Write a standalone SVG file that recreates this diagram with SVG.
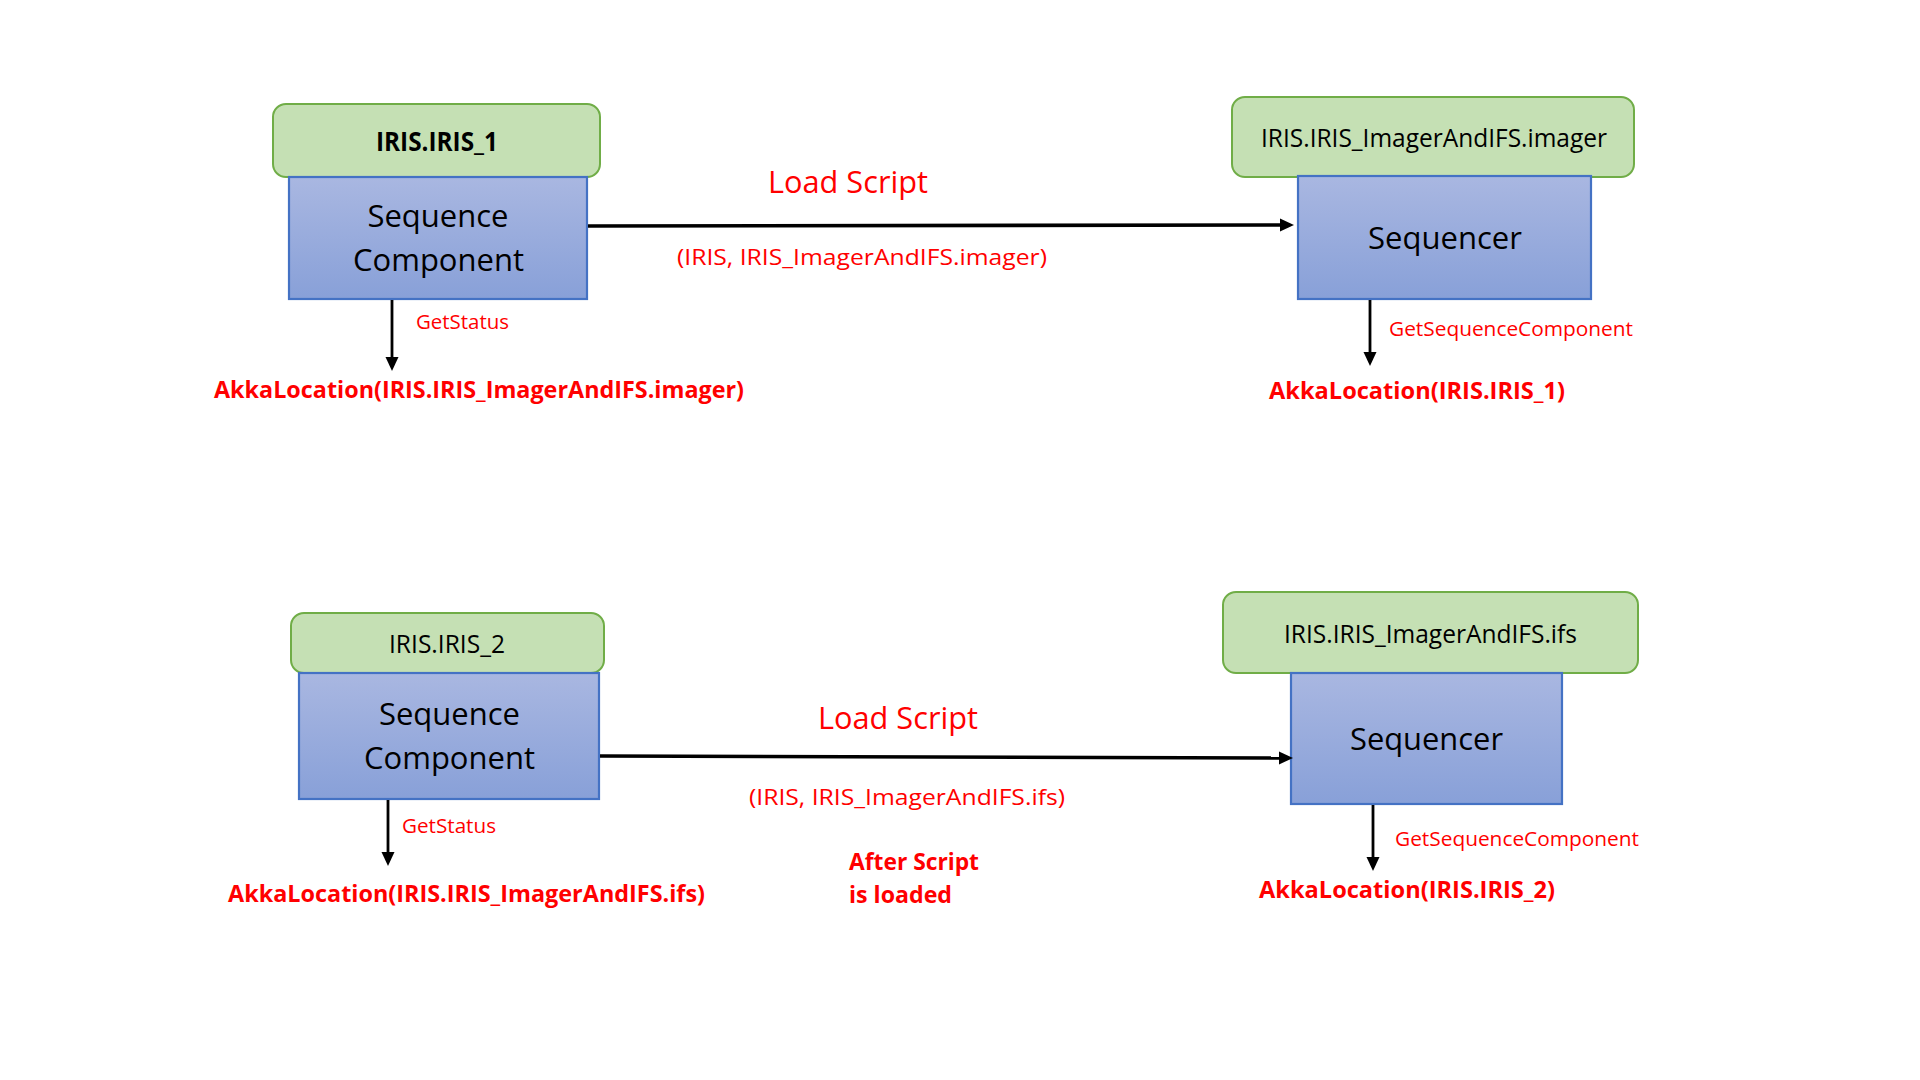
<svg xmlns="http://www.w3.org/2000/svg" width="1920" height="1080" viewBox="0 0 1920 1080">
<style>
text{font-family:"Open Sans","Noto Sans","DejaVu Sans",sans-serif;}
.tag{fill:#C5E0B4;stroke:#70AD47;stroke-width:2;}
.box{fill:url(#blueGrad);stroke:#4472C4;stroke-width:2.2;}
.lbl{fill:#000000;font-size:25px;}
.lblb{fill:#000000;font-size:26px;font-weight:bold;}
.big{fill:#000000;font-size:31px;}
.red{fill:#FF0000;}
.load{font-size:31px;}
.param{font-size:21px;}
.small{font-size:20px;}
.loc{font-size:24px;font-weight:bold;}
.conn{stroke:#000000;fill:none;}
.thick{stroke-width:3.6;}
.thin{stroke-width:2.8;}
</style>
<defs>
<linearGradient id="blueGrad" x1="0" y1="0" x2="0" y2="1">
<stop offset="0" stop-color="#A9B7E1"/>
<stop offset="1" stop-color="#88A0D8"/>
</linearGradient>
<marker id="arrow" markerUnits="userSpaceOnUse" markerWidth="14" markerHeight="14" viewBox="0 0 14 14" refX="7" refY="7" orient="auto">
<path d="M0,0.5 L14,7 L0,13.5 z" fill="#000000"/>
</marker>
</defs>
<rect x="0" y="0" width="1920" height="1080" fill="#FFFFFF"/>

<g id="seqcomp1">
<rect class="tag" x="273" y="104" width="327" height="73" rx="13"/>
<rect class="box" x="289" y="177" width="298" height="122"/>
<text class="lblb" x="376" y="151" textLength="122" lengthAdjust="spacingAndGlyphs">IRIS.IRIS_1</text>
<text class="big" x="438" y="227" text-anchor="middle">Sequence</text>
<text class="big" x="438.5" y="271" text-anchor="middle" textLength="171" lengthAdjust="spacingAndGlyphs">Component</text>
</g>

<g id="sequencer1">
<rect class="tag" x="1232" y="97" width="402" height="80" rx="13"/>
<rect class="box" x="1298" y="176" width="293" height="123"/>
<text class="lbl" x="1261" y="147" textLength="346" lengthAdjust="spacingAndGlyphs">IRIS.IRIS_ImagerAndIFS.imager</text>
<text class="big" x="1368" y="249" textLength="154" lengthAdjust="spacingAndGlyphs">Sequencer</text>
</g>

<g id="seqcomp2">
<rect class="tag" x="291" y="613" width="313" height="60" rx="13"/>
<rect class="box" x="299" y="673" width="300" height="126"/>
<text class="lbl" x="389" y="653" textLength="116" lengthAdjust="spacingAndGlyphs">IRIS.IRIS_2</text>
<text class="big" x="449.5" y="725" text-anchor="middle">Sequence</text>
<text class="big" x="449.5" y="769" text-anchor="middle" textLength="171" lengthAdjust="spacingAndGlyphs">Component</text>
</g>

<g id="sequencer2">
<rect class="tag" x="1223" y="592" width="415" height="81" rx="13"/>
<rect class="box" x="1291" y="673" width="271" height="131"/>
<text class="lbl" x="1284" y="643" textLength="293" lengthAdjust="spacingAndGlyphs">IRIS.IRIS_ImagerAndIFS.ifs</text>
<text class="big" x="1350" y="750" textLength="153" lengthAdjust="spacingAndGlyphs">Sequencer</text>
</g>

<g id="connectors">
<line class="conn thick" x1="588" y1="226" x2="1287" y2="225" marker-end="url(#arrow)"/>
<line class="conn thin" x1="392" y1="300" x2="392" y2="364" marker-end="url(#arrow)"/>
<line class="conn thin" x1="1370" y1="300" x2="1370" y2="359" marker-end="url(#arrow)"/>
<line class="conn thick" x1="600" y1="756" x2="1286" y2="758" marker-end="url(#arrow)"/>
<line class="conn thin" x1="388" y1="800" x2="388" y2="859" marker-end="url(#arrow)"/>
<line class="conn thin" x1="1373" y1="805" x2="1373" y2="864" marker-end="url(#arrow)"/>
</g>

<g id="labels">
<text class="red load" x="768" y="193" textLength="160" lengthAdjust="spacingAndGlyphs">Load Script</text>
<text class="red param" x="677" y="265" textLength="370" lengthAdjust="spacingAndGlyphs">(IRIS, IRIS_ImagerAndIFS.imager)</text>
<text class="red small" x="416" y="329" textLength="93" lengthAdjust="spacingAndGlyphs">GetStatus</text>
<text class="red loc" x="214" y="398" textLength="530" lengthAdjust="spacingAndGlyphs">AkkaLocation(IRIS.IRIS_ImagerAndIFS.imager)</text>
<text class="red small" x="1389" y="336" textLength="244" lengthAdjust="spacingAndGlyphs">GetSequenceComponent</text>
<text class="red loc" x="1269" y="399" textLength="296" lengthAdjust="spacingAndGlyphs">AkkaLocation(IRIS.IRIS_1)</text>

<text class="red load" x="818" y="729" textLength="160" lengthAdjust="spacingAndGlyphs">Load Script</text>
<text class="red param" x="749" y="805" textLength="316" lengthAdjust="spacingAndGlyphs">(IRIS, IRIS_ImagerAndIFS.ifs)</text>
<text class="red loc" x="849" y="870" font-size="23" textLength="130" lengthAdjust="spacingAndGlyphs">After Script</text>
<text class="red loc" x="849" y="903" font-size="23" textLength="103" lengthAdjust="spacingAndGlyphs">is loaded</text>
<text class="red small" x="402" y="833" textLength="94" lengthAdjust="spacingAndGlyphs">GetStatus</text>
<text class="red loc" x="228" y="902" textLength="477" lengthAdjust="spacingAndGlyphs">AkkaLocation(IRIS.IRIS_ImagerAndIFS.ifs)</text>
<text class="red small" x="1395" y="846" textLength="244" lengthAdjust="spacingAndGlyphs">GetSequenceComponent</text>
<text class="red loc" x="1259" y="898" textLength="296" lengthAdjust="spacingAndGlyphs">AkkaLocation(IRIS.IRIS_2)</text>
</g>
</svg>
